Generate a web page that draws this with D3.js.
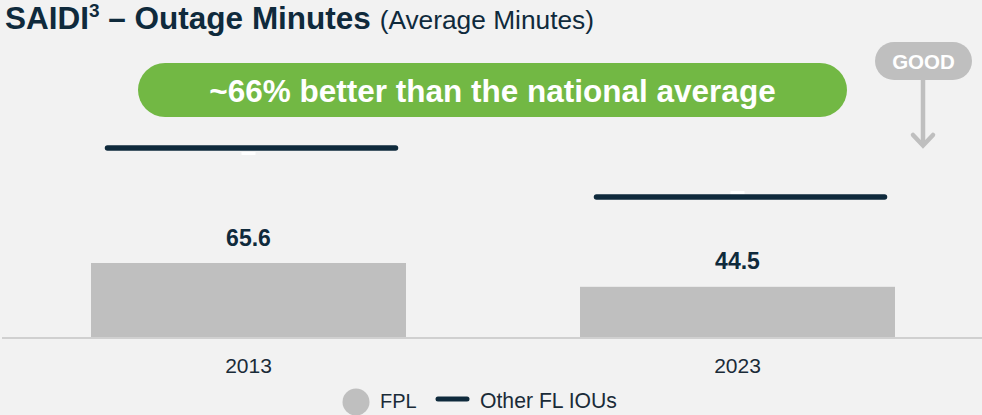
<!DOCTYPE html>
<html><head><meta charset="utf-8">
<script src="https://cdn.jsdelivr.net/npm/d3@7"></script>
<style>
html,body{margin:0;padding:0;background:#f2f2f2;}
svg{display:block;font-family:Arial,"Liberation Sans",sans-serif;}
</style></head>
<body>
<svg id="c" width="982" height="415"></svg>
<script>
const categories = ["2013", "2023"];
const fplValues = [65.6, 44.5];
const otherIOUValues = [167.6, 124.1];
const valueLabels = ["65.6", "44.5"];
const calloutText = "~66% better than the national average";

const W = 982, H = 415;
const navy = "#0f2a3c", gray = "#bfbfbf", green = "#72b844";
const svg = d3.select("#c");
svg.append("rect").attr("width", W).attr("height", H).attr("fill", "#f2f2f2");

const x = d3.scalePoint().domain(categories).range([4, 982]).padding(0.5);
const y = d3.scaleLinear().domain([0, 200]).range([337, 337 - 225.6]);
const barW = 315, lineW = 288;

// title
const t = svg.append("text").attr("x", 5).attr("y", 29).attr("fill", navy);
t.append("tspan").attr("font-weight", "bold").attr("font-size", 31.5).text("SAIDI");
t.append("tspan").attr("font-weight", "bold").attr("font-size", 19).attr("dy", -12).text("3");
t.append("tspan").attr("font-weight", "bold").attr("font-size", 31.5).attr("dy", 12).text(" \u2013 Outage Minutes ");
t.append("tspan").attr("font-size", 26.3).text("(Average Minutes)");

// callout pill
svg.append("rect").attr("x", 138).attr("y", 63).attr("width", 709).attr("height", 54)
  .attr("rx", 27).attr("fill", green);
svg.append("text").attr("x", 492.5).attr("y", 102).attr("text-anchor", "middle")
  .attr("fill", "#fff").attr("font-weight", "bold").attr("font-size", 31.5).text(calloutText);

// GOOD indicator
svg.append("rect").attr("x", 875).attr("y", 42).attr("width", 97).attr("height", 38)
  .attr("rx", 19).attr("fill", gray);
svg.append("text").attr("x", 923.5).attr("y", 69).attr("text-anchor", "middle")
  .attr("fill", "#fff").attr("font-weight", "bold").attr("font-size", 20.5).text("GOOD");
svg.append("line").attr("x1", 923).attr("x2", 923).attr("y1", 80).attr("y2", 145)
  .attr("stroke", gray).attr("stroke-width", 4.5);
svg.append("path").attr("d", "M913,135 L923,145.5 L933,135").attr("fill", "none")
  .attr("stroke", gray).attr("stroke-width", 4.5).attr("stroke-linecap", "round");

// bars
svg.selectAll("rect.bar").data(categories).enter().append("rect").attr("class", "bar")
  .attr("x", d => x(d) - barW / 2).attr("width", barW)
  .attr("y", (d, i) => y(fplValues[i])).attr("height", (d, i) => y(0) - y(fplValues[i]))
  .attr("fill", gray);

// baseline axis
svg.append("line").attr("x1", 2).attr("x2", 982).attr("y1", y(0) + 1).attr("y2", y(0) + 1)
  .attr("stroke", "#d0d0d0").attr("stroke-width", 2);

// value labels
svg.selectAll("text.val").data(categories).enter().append("text").attr("class", "val")
  .attr("x", d => x(d)).attr("y", (d, i) => y(fplValues[i]) - 17.5)
  .attr("text-anchor", "middle").attr("font-weight", "bold").attr("font-size", 23)
  .attr("fill", navy).text((d, i) => valueLabels[i]);

// category labels
svg.selectAll("text.cat").data(categories).enter().append("text").attr("class", "cat")
  .attr("x", d => x(d)).attr("y", 373).attr("text-anchor", "middle")
  .attr("font-size", 21).attr("fill", "#1a2b38").text(d => d);

// other IOU lines
svg.selectAll("line.iou").data(categories).enter().append("line").attr("class", "iou")
  .attr("x1", d => x(d) - lineW / 2 + 3).attr("x2", d => x(d) + lineW / 2 + 3)
  .attr("y1", (d, i) => y(otherIOUValues[i])).attr("y2", (d, i) => y(otherIOUValues[i]))
  .attr("stroke", navy).attr("stroke-width", 5.5).attr("stroke-linecap", "round");

// faint white marks next to the lines
svg.selectAll("rect.mk").data(categories).enter().append("rect").attr("class", "mk")
  .attr("x", d => x(d) - 7).attr("width", 14).attr("height", 3)
  .attr("y", (d, i) => y(otherIOUValues[i]) + (i === 0 ? 4 : -6))
  .attr("fill", "#ffffff");

// legend
svg.append("circle").attr("cx", 356).attr("cy", 402).attr("r", 13.5).attr("fill", gray);
svg.append("text").attr("x", 380).attr("y", 408).attr("font-size", 20).attr("fill", "#1a2b38").text("FPL");
svg.append("line").attr("x1", 438).attr("x2", 467).attr("y1", 399).attr("y2", 399)
  .attr("stroke", navy).attr("stroke-width", 5).attr("stroke-linecap", "round");
svg.append("text").attr("x", 480).attr("y", 408).attr("font-size", 21.2).attr("fill", "#1a2b38").text("Other FL IOUs");
</script>
</body></html>
